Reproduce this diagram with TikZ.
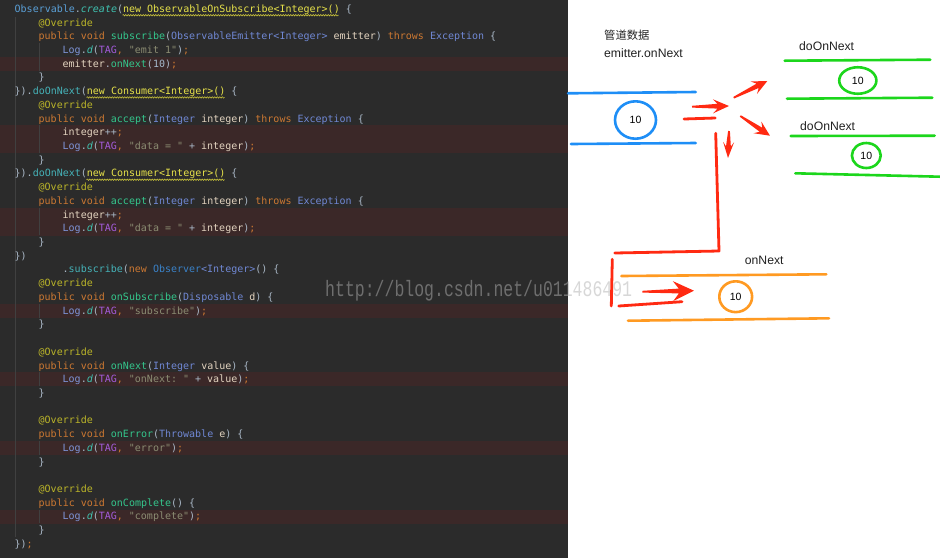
\documentclass[tikz,border=0pt]{standalone}
\usepackage{fontspec}
\setmainfont{Liberation Sans}
\setmonofont{DejaVu Sans Mono}
\newfontfamily\cjk{Noto Sans CJK SC}
\newfontfamily\wmfont{Liberation Mono}
\usetikzlibrary{shapes.geometric,decorations.pathmorphing}
\frenchspacing
\definecolor{bgdark}{HTML}{2B2B2B}
\definecolor{hlrow}{HTML}{3B2828}
\definecolor{cguide}{HTML}{404040}
\definecolor{cplain}{HTML}{A9B7C6}
\definecolor{cvar}{HTML}{E3D4C0}
\definecolor{ckw}{HTML}{CC7832}
\definecolor{cann}{HTML}{BBB529}
\definecolor{cfn}{HTML}{34C68C}
\definecolor{cital}{HTML}{3FC1B0}
\definecolor{cchain}{HTML}{45B2B8}
\definecolor{cobs}{HTML}{5A9FD6}
\definecolor{ctype}{HTML}{7088D4}
\definecolor{cobsr}{HTML}{3A82C8}
\definecolor{clog}{HTML}{7E94D8}
\definecolor{ctag}{HTML}{A45BDB}
\definecolor{cstr}{HTML}{8B8C72}
\definecolor{cnum}{HTML}{A5B9CC}
\definecolor{cyel}{HTML}{E7E24A}
\definecolor{cwavy}{HTML}{C8C23A}
\definecolor{wmgray}{HTML}{B1B1B1}
\definecolor{pblue}{HTML}{1E8EF6}
\definecolor{pgreen}{HTML}{1CD61C}
\definecolor{porange}{HTML}{FF9A22}
\definecolor{redc}{HTML}{FF2A12}
\definecolor{labtext}{HTML}{222222}
\newcommand\cdK[1]{\textcolor{ckw}{#1}}
\newcommand\cdA[1]{\textcolor{cann}{#1}}
\newcommand\cdF[1]{\textcolor{cfn}{#1}}
\newcommand\cdI[1]{\textcolor{cital}{\itshape #1}}
\newcommand\cdC[1]{\textcolor{cchain}{#1}}
\newcommand\cdO[1]{\textcolor{cobs}{#1}}
\newcommand\cdT[1]{\textcolor{ctype}{#1}}
\newcommand\cdB[1]{\textcolor{cobsr}{#1}}
\newcommand\cdL[1]{\textcolor{clog}{#1}}
\newcommand\cdG[1]{\textcolor{ctag}{#1}}
\newcommand\cdS[1]{\textcolor{cstr}{#1}}
\newcommand\cdN[1]{\textcolor{cnum}{#1}}
\newcommand\cdV[1]{\textcolor{cvar}{#1}}
\newcommand\cdY[1]{\textcolor{cyel}{#1}}
\newcommand\cdline[3]{\node[codetext] (l#1) at ({14.5+#2*6},{12.3+#1*13.72}) {#3};}
\tikzset{
  codetext/.style={anchor=base west, inner sep=0pt, text=cplain, font=\ttfamily\fontsize{10}{12}\selectfont},
  wavy/.style={draw=cwavy, line width=0.6pt, decorate, decoration={snake, amplitude=0.7pt, segment length=2.5pt}},
  guide/.style={draw=cguide, line width=0.8pt},
  pipe/.style={line width=2.6pt, line cap=round},
  ring/.style={ellipse, line width=2.6pt, inner sep=0pt, text=black, font=\fontsize{10.5}{12}\selectfont},
  redline/.style={draw=redc, line width=2.8pt, line cap=round, line join=round},
  lab/.style={anchor=base west, inner sep=0pt, text=labtext, font=\fontsize{12.2}{14}\selectfont},
  arL/.store in=\arL, arH/.store in=\arH, arW/.store in=\arW,
  arL=30, arH=15, arW=7,
  redarrow/.pic={\fill[redc] (0,-0.9) -- ({\arL-0.72*\arH},-2.4) -- ({\arL-\arH},-\arW) -- (\arL,0) -- ({\arL-\arH},\arW) -- ({\arL-0.72*\arH},2.4) -- (0,0.9) -- cycle;},
}
\begin{document}
\begin{tikzpicture}[x=1pt,y=-1pt]
\useasboundingbox (0,0) rectangle (940,558);
\fill[bgdark] (0,0) rectangle (568,558);
\fill[white] (568,0) rectangle (940,558);
\foreach \k in {4,9,10,15,16,22,27,32,37}
  \fill[hlrow] (0,{9+\k*13.72-7}) rectangle (568,{9+\k*13.72+7});
% indent guides
\draw[guide] (15.5,17) -- (15.5,537);
\foreach \a/\b in {3/5,9/11,15/17,22/23,27/28,32/33,37/38}
  \draw[guide] (39.5,{9+\a*13.72-7}) -- (39.5,{9+\b*13.72-7});
% code
\cdline{0}{0}{\cdO{Observable}.\cdI{create}(\cdY{new ObservableOnSubscribe<Integer>()} \{}
\cdline{1}{4}{\cdA{@Override}}
\cdline{2}{4}{\cdK{public void} \cdF{subscribe}(\cdT{ObservableEmitter<Integer>} \cdV{emitter}) \cdK{throws} \cdT{Exception} \{}
\cdline{3}{8}{\cdL{Log}.\cdI{d}(\cdG{TAG}\cdK{,} \cdS{"emit 1"})\cdK{;}}
\cdline{4}{8}{\cdV{emitter}.\cdF{onNext}(\cdN{10})\cdK{;}}
\cdline{5}{4}{\}}
\cdline{6}{0}{\}).\cdC{doOnNext}(\cdY{new Consumer<Integer>()} \{}
\cdline{7}{4}{\cdA{@Override}}
\cdline{8}{4}{\cdK{public void} \cdF{accept}(\cdT{Integer} \cdV{integer}) \cdK{throws} \cdT{Exception} \{}
\cdline{9}{8}{\cdV{integer}++\cdK{;}}
\cdline{10}{8}{\cdL{Log}.\cdI{d}(\cdG{TAG}\cdK{,} \cdS{"data = "} + \cdV{integer})\cdK{;}}
\cdline{11}{4}{\}}
\cdline{12}{0}{\}).\cdC{doOnNext}(\cdY{new Consumer<Integer>()} \{}
\cdline{13}{4}{\cdA{@Override}}
\cdline{14}{4}{\cdK{public void} \cdF{accept}(\cdT{Integer} \cdV{integer}) \cdK{throws} \cdT{Exception} \{}
\cdline{15}{8}{\cdV{integer}++\cdK{;}}
\cdline{16}{8}{\cdL{Log}.\cdI{d}(\cdG{TAG}\cdK{,} \cdS{"data = "} + \cdV{integer})\cdK{;}}
\cdline{17}{4}{\}}
\cdline{18}{0}{\})}
\cdline{19}{8}{.\cdC{subscribe}(\cdK{new} \cdB{Observer}\cdT{<Integer>}() \{}
\cdline{20}{4}{\cdA{@Override}}
\cdline{21}{4}{\cdK{public void} \cdF{onSubscribe}(\cdT{Disposable} \cdV{d}) \{}
\cdline{22}{8}{\cdL{Log}.\cdI{d}(\cdG{TAG}\cdK{,} \cdS{"subscribe"})\cdK{;}}
\cdline{23}{4}{\}}
\cdline{25}{4}{\cdA{@Override}}
\cdline{26}{4}{\cdK{public void} \cdF{onNext}(\cdT{Integer} \cdV{value}) \{}
\cdline{27}{8}{\cdL{Log}.\cdI{d}(\cdG{TAG}\cdK{,} \cdS{"onNext: "} + \cdV{value})\cdK{;}}
\cdline{28}{4}{\}}
\cdline{30}{4}{\cdA{@Override}}
\cdline{31}{4}{\cdK{public void} \cdF{onError}(\cdT{Throwable} \cdV{e}) \{}
\cdline{32}{8}{\cdL{Log}.\cdI{d}(\cdG{TAG}\cdK{,} \cdS{"error"})\cdK{;}}
\cdline{33}{4}{\}}
\cdline{35}{4}{\cdA{@Override}}
\cdline{36}{4}{\cdK{public void} \cdF{onComplete}() \{}
\cdline{37}{8}{\cdL{Log}.\cdI{d}(\cdG{TAG}\cdK{,} \cdS{"complete"})\cdK{;}}
\cdline{38}{4}{\}}
\cdline{39}{0}{\})\cdK{;}}
% wavy warning underlines
\draw[wavy] (122.5,15.2) -- (338.5,15.2);
\draw[wavy] (86.5,97.4) -- (224.5,97.4);
\draw[wavy] (86.5,179.7) -- (224.5,179.7);
% watermark
\node[anchor=base west, inner sep=0pt, text=wmgray, text opacity=0.5] (wm) at (325,296.5)
  {\wmfont\fontsize{16.5}{18}\selectfont\scalebox{1}[1.35]{http://blog.csdn.net/u011486491}};
% labels
\node[lab, font=\cjk\fontsize{11.3}{13}\selectfont] (t1) at (604,39) {管道数据};
\node[lab] (t2) at (604,57.3) {emitter.onNext};
\node[lab] (t3) at (799,50.7) {doOnNext};
\node[lab] (t4) at (800,130) {doOnNext};
\node[lab] (t5) at (744.7,264) {onNext};
% pipes
\draw[pipe, draw=pblue] (568,93.3) -- (695.7,92);
\draw[pipe, draw=pblue] (571,144) -- (695.7,143);
\draw[pipe, draw=pgreen] (784.7,60.7) -- (930.3,59.7);
\draw[pipe, draw=pgreen] (787,98.7) -- (932.3,97.7);
\draw[pipe, draw=pgreen] (790.7,136) -- (934.7,135.7);
\draw[pipe, draw=pgreen] (795.3,173.3) -- (940,176.7);
\draw[pipe, draw=porange] (621.3,276) -- (826.3,274.3);
\draw[pipe, draw=porange] (628,320.7) -- (829,318.3);
% rings
\node[ring, draw=pblue, minimum width=41pt, minimum height=37.4pt] (cb) at (635.5,120) {10};
\node[ring, draw=pgreen, minimum width=37.2pt, minimum height=26.5pt] (cg1) at (857.8,80.5) {10};
\node[ring, draw=pgreen, minimum width=28.8pt, minimum height=25pt] (cg2) at (866.3,155.5) {10};
\node[ring, draw=porange, minimum width=32.8pt, minimum height=30.8pt] (co) at (735.7,296.7) {10};
% red strokes
\draw[redline] (684,119) -- (715.3,118);
\draw[redline] (715.7,133.3) -- (719,251) -- (614.7,253);
\draw[redline] (612.3,259.3) -- (611.3,306);
\draw[redline] (618.7,306) -- (682,301.7);
\pic[rotate=1.1, arL=37, arH=16, arW=7] at (692,106.7) {redarrow};
\pic[rotate=26.4, arL=37.5, arH=15, arW=7] at (733.7,97.7) {redarrow};
\pic[rotate=-33.6, arL=35.6, arH=15, arW=7] at (740.3,116) {redarrow};
\pic[rotate=-92.1, arL=27, arH=16, arW=5.5] at (729,131) {redarrow};
\pic[rotate=1.1, arL=51.7, arH=21, arW=10] at (642.3,291.7) {redarrow};
\end{tikzpicture}
\end{document}
